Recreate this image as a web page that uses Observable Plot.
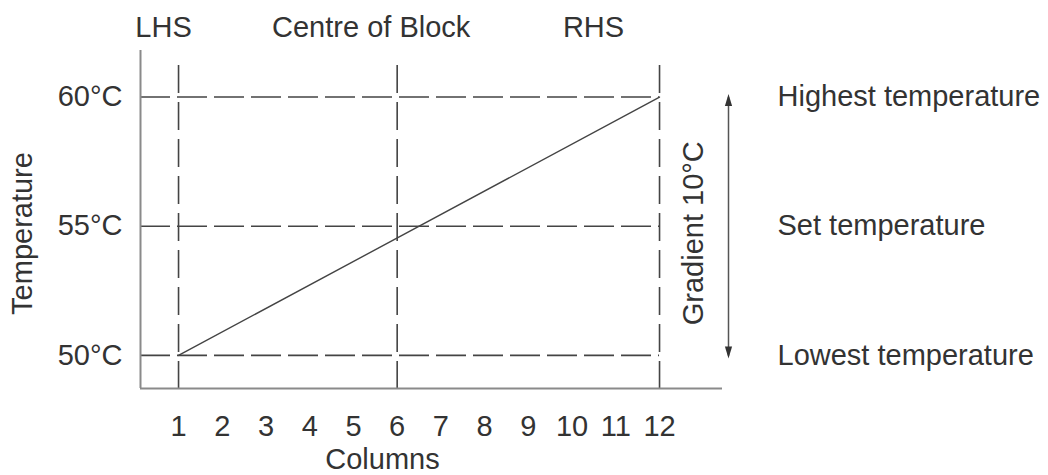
<!DOCTYPE html>
<html>
<head>
<meta charset="utf-8">
<script src="https://cdn.jsdelivr.net/npm/d3@7"></script>
<script src="https://cdn.jsdelivr.net/npm/@observablehq/plot@0.6"></script>
<style>
  html, body { margin: 0; padding: 0; background: #fff; }
  #chart { width: 1048px; height: 475px; }
</style>
</head>
<body>
<div id="chart"></div>
<script>
// ---- data ----
const columns = [1, 2, 3, 4, 5, 6, 7, 8, 9, 10, 11, 12];
const tempTicks = [50, 55, 60];
const tempLabels = ["Lowest temperature", "Set temperature", "Highest temperature"];
const markerCols = [1, 6, 12];
const markerLabels = ["LHS", "Centre of Block", "RHS"];
const gradientCols = [1, 12];
const gradientTemps = [50, 60];
const gradientLabel = "Gradient 10°C";
const xTitle = "Columns";
const yTitle = "Temperature";

// ---- chart ----
const xDomain = [0.13, 13.44];
const yDomain = [48.72, 61.8];
const gridTop = 61.22;
const ink = "#333";
const axisGray = "#8a8a8a";
const fs = 29;
const gradient = gradientCols.map((c, i) => ({col: c, temp: gradientTemps[i]}));

const upHead = {draw(ctx) { ctx.moveTo(0, 0); ctx.lineTo(3.6, 12); ctx.lineTo(-3.6, 12); ctx.closePath(); }};
const downHead = {draw(ctx) { ctx.moveTo(0, 0); ctx.lineTo(3.6, -12); ctx.lineTo(-3.6, -12); ctx.closePath(); }};

const markerDx = [-15, -26, -66];

const chart = Plot.plot({
  width: 1048,
  height: 475,
  marginLeft: 140,
  marginRight: 326,
  marginTop: 50,
  marginBottom: 87,
  style: {fontFamily: "'Liberation Sans', Arial, sans-serif", fontSize: fs + "px", color: ink, background: "#fff"},
  x: {type: "linear", domain: xDomain},
  y: {type: "linear", domain: yDomain},
  marks: [
    // dashed guides
    Plot.ruleY(tempTicks, {x1: xDomain[0], x2: markerCols[markerCols.length - 1], stroke: "#444", strokeWidth: 1.6, strokeDasharray: "30,7"}),
    Plot.ruleX(markerCols, {y1: gridTop, y2: yDomain[0], stroke: "#444", strokeWidth: 1.6, strokeDasharray: "28,9"}),
    // axis frame lines
    Plot.ruleX([xDomain[0]], {y1: yDomain[0], y2: yDomain[1], stroke: axisGray, strokeWidth: 2}),
    Plot.ruleY([yDomain[0]], {x1: xDomain[0], x2: xDomain[1], stroke: axisGray, strokeWidth: 2}),
    // gradient line
    Plot.line(gradient, {x: "col", y: "temp", stroke: "#444", strokeWidth: 1.4}),
    // axes
    Plot.axisX(columns, {tickSize: 0, tickPadding: 27, label: null, fontSize: fs, fill: ink}),
    Plot.axisY(tempTicks, {tickSize: 0, tickPadding: 18, label: null, tickFormat: d => d + "°C", fontSize: fs, fill: ink}),
    Plot.axisY(tempTicks, {anchor: "right", tickSize: 0, tickPadding: 55, label: null, textAnchor: "start",
      tickFormat: d => tempLabels[tempTicks.indexOf(d)], fontSize: fs, fill: ink}),
    // titles
    Plot.text([xTitle], {frameAnchor: "bottom", dx: -49, dy: 71, lineAnchor: "middle", textAnchor: "middle", fontSize: fs, fill: ink}),
    Plot.text([yTitle], {frameAnchor: "left", dx: -118, dy: 14, rotate: -90, lineAnchor: "middle", textAnchor: "middle", fontSize: fs, fill: ink}),
    // top marker labels
    ...markerCols.map((c, i) => Plot.text([markerLabels[i]], {x: () => c, frameAnchor: "top", dx: markerDx[i], dy: -23, lineAnchor: "middle", textAnchor: "middle", fontSize: fs, fill: ink})),
    // gradient arrow
    Plot.link([0], {x1: () => xDomain[1], x2: () => xDomain[1], y1: () => gradientTemps[0], y2: () => gradientTemps[1], dx: 6, stroke: "#555", strokeWidth: 1.5}),
    Plot.dot([gradientTemps[1]], {x: () => xDomain[1], y: d => d, dx: 6, dy: -3, symbol: upHead, fill: "#333", stroke: "none", r: 4}),
    Plot.dot([gradientTemps[0]], {x: () => xDomain[1], y: d => d, dx: 6, dy: 3, symbol: downHead, fill: "#333", stroke: "none", r: 4}),
    Plot.text([gradientLabel], {x: () => markerCols[2], y: () => tempTicks[1], dx: 34, dy: 7, rotate: -90, lineAnchor: "middle", textAnchor: "middle", fontSize: fs, fill: ink})
  ]
});
document.getElementById("chart").appendChild(chart);
</script>
</body>
</html>
